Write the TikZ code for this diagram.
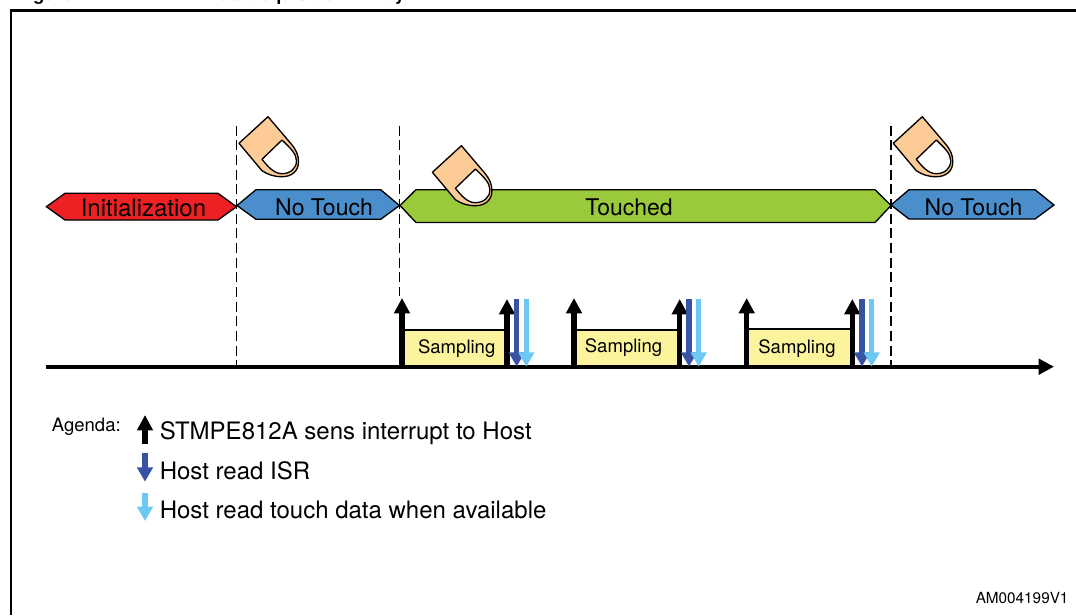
\documentclass[tikz,border=0pt]{standalone}
\usepackage{fontspec}
\setmainfont{TeX Gyre Heros}
\usetikzlibrary{arrows.meta}
\definecolor{initred}{HTML}{ED2024}
\definecolor{phaseblue}{HTML}{4A8ECC}
\definecolor{phasegreen}{HTML}{9ACA3C}
\definecolor{skin}{HTML}{FDCB95}
\definecolor{sampleyellow}{HTML}{FBF49C}
\definecolor{isrblue}{HTML}{3853A4}
\definecolor{dataskyblue}{HTML}{6DC8F3}
\newcommand{\pxf}[1]{\fontsize{\dimexpr#1pt*3/4\relax}{\dimexpr#1pt*3/4\relax}\selectfont}
\tikzset{
  x=0.75pt,y=-0.75pt,
  frameline/.style={line width=1.8pt,black},
  marker/.style={line width=1.1pt,black,dash pattern=on 7.5pt off 3.5pt},
  phase/.style={draw=black,line width=1pt,line join=miter},
  label/.style={inner sep=0pt,text=black},
  fingerskin/.style={draw=black,line width=1pt,fill=skin,line join=round},
  fingernail/.style={draw=black,line width=1pt,fill=white,line join=round},
  evt/.style={line width=3.8pt,-{Triangle[length=11.6pt,width=11.5pt]}},
  hostisr/.style={line width=4pt,isrblue,-{Triangle[length=10.8pt,width=11.5pt]}},
  hostdata/.style={line width=4pt,dataskyblue,-{Triangle[length=10.8pt,width=11.5pt]}},
  samplebox/.style={draw=black,line width=1.7pt,fill=sampleyellow},
  timeaxis/.style={line width=3.2pt,black,-{Triangle[length=11.5pt,width=11.5pt]}},
}
\newcommand{\finger}[2]{%
  \begin{scope}[shift={(#1,#2)}]
    \draw[fingerskin] (0,0) -- (23,27) .. controls (28,33) and (30.5,38) .. (30.5,45)
      .. controls (30.5,55) and (23,60) .. (14,60)
      .. controls (6,60) and (0,58) .. (-6,54) -- (-29,26.6) -- cycle;
    \draw[fingernail] (14,23.3) -- (-6,42.6) .. controls (0,50) and (6,57) .. (14,57)
      .. controls (22,57) and (28.5,52) .. (28.5,44)
      .. controls (28.5,37) and (22,31) .. (14,23.3) -- cycle;
  \end{scope}}
% #1 up-arrow left, #2 up-arrow right, #3 isr, #4 data, #5 box top, #6 label x, #7 label y, #8 name
\newcommand{\sampling}[8]{%
  \coordinate (#8a) at (#1,366);
  \coordinate (#8at) at (#1,298);
  \coordinate (#8b) at (#2,366);
  \coordinate (#8bt) at (#2,299);
  \coordinate (#8i) at (#3,299);
  \coordinate (#8ie) at (#3,366.7);
  \coordinate (#8d) at (#4,299);
  \coordinate (#8de) at (#4,366.7);
  \draw[samplebox] (#1,366) rectangle (#2,#5);
  \node[label,font=\pxf{18.5}] (#8l) at (#6,#7) {Sampling};
  \draw[evt] (#8a) -- (#8at);
  \draw[evt] (#8b) -- (#8bt);
  \draw[hostisr] (#8i) -- (#8ie);
  \draw[hostdata] (#8d) -- (#8de);}
\begin{document}
\begin{tikzpicture}
\useasboundingbox (0,0) rectangle (1076,615);
\fill[white] (0,0) rectangle (1076,615);
% clipped caption remnants
\begin{scope}
  \clip (0,0) rectangle (1076,9);
  \node[label,anchor=base west,font=\bfseries\pxf{18}] (capa) at (17,0.6) {Figure};
  \node[label,anchor=base west,font=\bfseries\pxf{18}] (capb) at (206,0.6) {Data acquisition};
  \node[label,anchor=base west,font=\bfseries\pxf{18}] (capc) at (384,0.6) {by};
\end{scope}
% frame
\coordinate (fa) at (11,615);
\coordinate (fb) at (11,10.5);
\coordinate (fc) at (1076,10.5);
\draw[frameline,line join=miter] (fa) -- (fb) -- (fc);
% markers
\coordinate (m1t) at (236.7,125.7); \coordinate (m1b) at (236.7,366);
\coordinate (m2t) at (399.7,125.7); \coordinate (m2b) at (399.7,296);
\coordinate (m3t) at (891,125.7);   \coordinate (m3b) at (891,366);
\draw[marker] (m1t) -- (m1b);
\draw[marker] (m2t) -- (m2b);
\draw[marker] (m3t) -- (m3b);
% phases
\draw[phase,fill=initred] (46.4,206.7) -- (65,193.3) -- (218,193.3) -- (236.5,206.7) -- (218,220) -- (65,220) -- cycle;
\node[label,font=\pxf{24}] (init) at (143.5,207.8) {Initialization};
\draw[phase,fill=phaseblue] (237,205.5) -- (256,189.7) -- (380.7,189.7) -- (399.5,205.5) -- (380.7,219.3) -- (256,219.3) -- cycle;
\node[label,font=\pxf{23}] (nt1) at (324,207) {No Touch};
\draw[phase,fill=phasegreen] (400,205.5) -- (416,189.7) -- (875,189.7) -- (891,205.5) -- (875,222.5) -- (416,222.5) -- cycle;
\node[label,font=\pxf{23}] (touched) at (629,207) {Touched};
\draw[phase,fill=phaseblue] (891,205) -- (909,189.7) -- (1035,189.7) -- (1054,205) -- (1035,219) -- (909,219) -- cycle;
\node[label,font=\pxf{23}] (nt2) at (973.5,207) {No Touch};
% fingers
\finger{268}{116.7}
\finger{461.4}{145.7}
\finger{922.3}{116.7}
% axis
\coordinate (ax0) at (46,366.7);
\coordinate (ax1) at (1054,366.7);
\draw[timeaxis] (ax0) -- (ax1);
% samplings
\sampling{402}{507}{516.7}{526.3}{330}{456.7}{349}{sa}
\sampling{574}{679.7}{689}{698.7}{330}{623.5}{348}{sb}
\sampling{746.7}{852.3}{862}{871.7}{329}{797}{349}{sc}
% legend
\node[label,anchor=base west,font=\pxf{18.5}] (agenda) at (51.7,431) {Agenda:};
\coordinate (l1a) at (145,444); \coordinate (l1b) at (145,415);
\coordinate (l2a) at (145,453.3); \coordinate (l2b) at (145,481.7);
\coordinate (l3a) at (145,493); \coordinate (l3b) at (145,521);
\draw[evt] (l1a) -- (l1b);
\draw[hostisr] (l2a) -- (l2b);
\draw[hostdata] (l3a) -- (l3b);
\node[label,anchor=base west,font=\pxf{24}] (lt1) at (159.5,439) {STMPE812A sens interrupt to Host};
\node[label,anchor=base west,font=\pxf{24}] (lt2) at (159.5,479) {Host read ISR};
\node[label,anchor=base west,font=\pxf{24}] (lt3) at (159.5,518) {Host read touch data when available};
\node[label,anchor=base west,font=\pxf{15.3}] (ref) at (975.5,603) {AM004199V1};
\end{tikzpicture}
\end{document}
